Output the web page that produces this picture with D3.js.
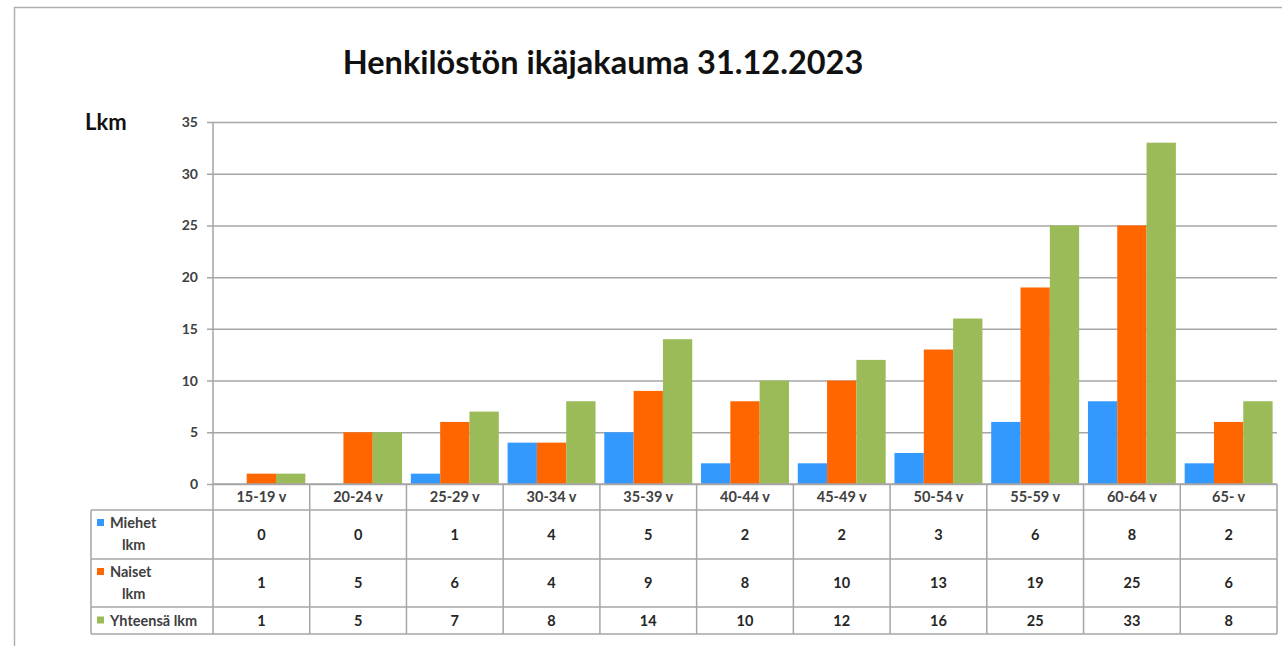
<!DOCTYPE html>
<html>
<head>
    <meta charset="utf-8">
    <title>Henkilöstön ikäjakauma</title>
    <script src="https://cdn.jsdelivr.net/npm/d3@7"></script>
    <style>
        body { margin: 0; background: #fff; }
        text { font-family: Lato, "Open Sans", sans-serif; }
    </style>
</head>
<body>
    <svg width="1282" height="646" id="mainsvg"></svg>
    <script>
        // data
        const categories = ['15-19 v', '20-24 v', '25-29 v', '30-34 v', '35-39 v', '40-44 v',
            '45-49 v', '50-54 v', '55-59 v', '60-64 v', '65- v'];
        const miehet = [0, 0, 1, 4, 5, 2, 2, 3, 6, 8, 2];
        const naiset = [1, 5, 6, 4, 9, 8, 10, 13, 19, 25, 6];
        const yhteensa = [1, 5, 7, 8, 14, 10, 12, 16, 25, 33, 8];
        const seriesNames = [['Miehet', 'lkm'], ['Naiset', 'lkm'], ['Yhteensä lkm']];
        const yTicks = [0, 5, 10, 15, 20, 25, 30, 35];

        const series = [
            { key: 'm', label: seriesNames[0], values: miehet, color: '#3399ff' },
            { key: 'n', label: seriesNames[1], values: naiset, color: '#ff6600' },
            { key: 'y', label: seriesNames[2], values: yhteensa, color: '#9bbb59' }
        ];

        const svg = d3.select('svg');
        const plotLeft = 213, plotRight = 1277, plotTop = 122, plotBottom = 484;
        const tableLeft = 91;
        const rowEdges = [484, 510, 559, 607, 634];
        const fs = 14.5;

        // outer frame
        svg.append('path')
            .attr('d', `M14.5,660 V7.5 H1290`)
            .attr('fill', 'none').attr('stroke', '#b0b0b0').attr('stroke-width', 1.5);

        svg.append('text')
            .attr('x', 603).attr('y', 74)
            .attr('text-anchor', 'middle')
            .attr('font-size', 32.5).attr('font-weight', 'bold').attr('fill', '#111')
            .text('Henkilöstön ikäjakauma 31.12.2023');

        svg.append('text')
            .attr('x', 85).attr('y', 130)
            .attr('font-size', 22).attr('font-weight', 'bold').attr('fill', '#111')
            .text('Lkm');

        const y = d3.scaleLinear().domain([0, 35]).range([plotBottom, plotTop]);
        const x = d3.scaleBand().domain(categories).range([plotLeft, plotRight]).padding(0);
        const xs = d3.scaleBand().domain(series.map(s => s.key)).range([0, x.bandwidth()])
            .paddingInner(0).paddingOuter(0.15);

        // gridlines + ticks
        const yAxis = d3.axisLeft(y).tickValues(yTicks).tickSize(plotRight - plotLeft + 6).tickPadding(9);
        const ga = svg.append('g').attr('transform', `translate(${plotRight},0)`).call(yAxis);
        ga.select('.domain').remove();
        ga.selectAll('.tick line').attr('stroke', '#a6a6a6').attr('stroke-width', 1.5);
        ga.selectAll('.tick text').attr('font-size', 14).attr('font-weight', 'bold')
            .attr('fill', '#404040').attr('font-family', 'Lato, sans-serif');

        // bars
        svg.append('g').selectAll('g').data(categories).join('g')
            .attr('transform', d => `translate(${x(d)},0)`)
            .selectAll('rect')
            .data((d, i) => series.map(s => ({ key: s.key, v: s.values[i], color: s.color })))
            .join('rect')
            .attr('x', d => xs(d.key))
            .attr('width', xs.bandwidth())
            .attr('y', d => y(d.v))
            .attr('height', d => y(0) - y(d.v))
            .attr('fill', d => d.color);

        // y axis line
        svg.append('line').attr('x1', plotLeft).attr('x2', plotLeft).attr('y1', plotTop).attr('y2', plotBottom)
            .attr('stroke', '#a6a6a6').attr('stroke-width', 1.5);

        // data table
        const tg = svg.append('g');
        const lineColor = '#a6a6a6';
        tg.append('line').attr('x1', plotLeft).attr('x2', plotRight).attr('y1', plotBottom).attr('y2', plotBottom)
            .attr('stroke', lineColor).attr('stroke-width', 1.5);
        rowEdges.slice(1).forEach(ry => {
            tg.append('line').attr('x1', tableLeft).attr('x2', plotRight).attr('y1', ry).attr('y2', ry)
                .attr('stroke', lineColor).attr('stroke-width', 1.5);
        });
        tg.append('line').attr('x1', tableLeft).attr('x2', tableLeft)
            .attr('y1', rowEdges[1]).attr('y2', rowEdges[4])
            .attr('stroke', lineColor).attr('stroke-width', 1.5);
        categories.concat([null]).forEach(c => {
            const vx = c === null ? plotRight : x(c);
            tg.append('line').attr('x1', vx).attr('x2', vx).attr('y1', plotBottom).attr('y2', rowEdges[4])
                .attr('stroke', lineColor).attr('stroke-width', 1.5);
        });

        // header labels
        tg.selectAll('.hdr').data(categories).join('text')
            .attr('class', 'hdr')
            .attr('x', d => x(d) + x.bandwidth() / 2)
            .attr('y', (rowEdges[0] + rowEdges[1]) / 2 + 5)
            .attr('text-anchor', 'middle')
            .attr('font-size', fs).attr('font-weight', 'bold').attr('fill', '#404040')
            .text(d => d);

        // rows
        series.forEach((s, r) => {
            const y0 = rowEdges[r + 1], y1 = rowEdges[r + 2];
            const lines = s.label;
            const firstY = lines.length > 1 ? y0 + 18 : (y0 + y1) / 2 + 5;
            tg.append('rect').attr('x', 97).attr('y', firstY - 9)
                .attr('width', 7).attr('height', 7).attr('fill', s.color);
            lines.forEach((t, li) => {
                tg.append('text')
                    .attr('x', li === 0 ? 110 : 122)
                    .attr('y', firstY + li * 22)
                    .attr('font-size', fs).attr('font-weight', 'bold').attr('fill', '#404040')
                    .text(t);
            });
            tg.selectAll(null).data(s.values).join('text')
                .attr('x', (d, i) => x(categories[i]) + x.bandwidth() / 2)
                .attr('y', (y0 + y1) / 2 + 5)
                .attr('text-anchor', 'middle')
                .attr('font-size', fs).attr('font-weight', 'bold').attr('fill', '#262626')
                .text(d => d);
        });
    </script>
</body>
</html>
